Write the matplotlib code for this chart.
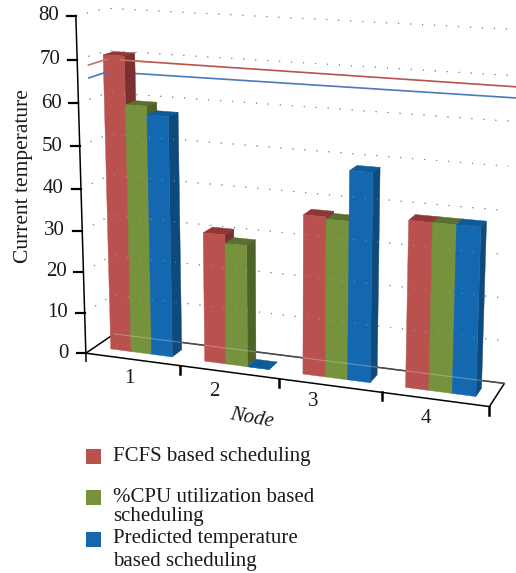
import matplotlib
matplotlib.use('Agg')
import matplotlib.pyplot as plt
import numpy as np
from matplotlib.patches import Polygon, Rectangle

plt.rcParams['font.family'] = ['Liberation Serif', 'DejaVu Serif']

nodes = ['1', '2', '3', '4']
fcfs = [70.7, 31, 37.5, 38.5]
cpu = [59.5, 29, 37, 38.5]
predicted = [57.5, 0, 48.5, 38.5]
red_line = [68, 67.6]
blue_line = [65, 65.2]
z_ticks = [0, 10, 20, 30, 40, 50, 60, 70, 80]

series = [
    ('FCFS based scheduling', fcfs, '#b9514e', '#8f3836', '#7a302e'),
    ('%CPU utilization based\nscheduling', cpu, '#76923c', '#5b6f2f', '#4f6228'),
    ('Predicted temperature\nbased scheduling', predicted, '#1468b0', '#0f5a98', '#0e4a7c'),
]

# frame corners (node axis, depth, value) -> pixel, fitted to one camera matrix
frame = [
    ((0, 0, 0), (87, 353)), ((0, 0, 80), (74, 16)),
    ((4, 0, 0), (490, 406)), ((4, 0, 80), (501, 39)),
    ((0, 1, 0), (113, 334)), ((0, 1, 80), (108, 8)),
    ((4, 1, 0), (504, 384)), ((4, 1, 80), (516, 29)),
]
rows = []
for (x, y, z), (u, v) in frame:
    p = [x, y, z, 1]
    rows.append(p + [0, 0, 0, 0] + [-u * c for c in p])
    rows.append([0, 0, 0, 0] + p + [-v * c for c in p])
camera = np.linalg.svd(np.array(rows, dtype=float))[2][-1].reshape(3, 4)


def proj(x, y, z):
    h = camera @ np.array([x, y, z, 1.0])
    return h[0] / h[2], h[1] / h[2]


def path(ax, pts, **kw):
    xy = [proj(*p) for p in pts]
    ax.plot([p[0] for p in xy], [p[1] for p in xy], **kw)


fig = plt.figure(figsize=(5.16, 5.73), dpi=100)
ax = fig.add_axes([0, 0, 1, 1])
ax.set_xlim(0, 516)
ax.set_ylim(573, 0)
ax.axis('off')

# floor
path(ax, [(0, 0, 0), (0, 1, 0), (4, 1, 0), (4, 0, 0)], color='black', lw=1.1, zorder=1)

# dotted wall grid
dots = (0, (1, 9.8))
for z in z_ticks[1:]:
    path(ax, [(0, 0.36, z), (0, 1, z), (3.97, 1, z)], color='#444444', lw=0.8,
         linestyle=dots, zorder=1)

# lines on the walls, behind the bars
for vals, col in [(red_line, '#b9514e'), (blue_line, '#4a7ab8')]:
    path(ax, [(0, 1, vals[0]), (4.2, 1, vals[1])], color=col, lw=1.2, zorder=1)

# bars
bar_w, margin, y0, y1 = 0.22, 0.17, 0.32, 0.68
zo = 2
for i in range(len(nodes)):
    for j, (name, vals, front, top, side) in enumerate(series):
        xa = i + margin + j * bar_w
        xb = xa + bar_w
        z = vals[i]
        faces = [
            ([(xa, y0, z), (xb, y0, z), (xb, y1, z), (xa, y1, z)], top),
            ([(xb, y0, 0), (xb, y1, 0), (xb, y1, z), (xb, y0, z)], side),
            ([(xa, y0, 0), (xb, y0, 0), (xb, y0, z), (xa, y0, z)], front),
        ]
        for pts, col in faces:
            ax.add_patch(Polygon([proj(*p) for p in pts], closed=True, facecolor=col,
                                 edgecolor=col, lw=0.3, zorder=zo))
        zo += 1

# grid and floor show faintly through the bars
for z in z_ticks[1:]:
    path(ax, [(0, 0.36, z), (0, 1, z), (3.97, 1, z)], color='#d0d0d0', lw=0.8,
         linestyle=dots, alpha=0.45, zorder=zo)
path(ax, [(0, 1, 0), (4, 1, 0)], color='#d0d0d0', lw=0.8, alpha=0.4, zorder=zo)

# the parts of the lines that lie over the first bar
path(ax, [(0, 0.36, red_line[0]), (0, 1, red_line[0])], color='#c9706c', lw=1.2, zorder=zo)
path(ax, [(0, 0.36, blue_line[0]), (0, 1, blue_line[0])], color='#4a7ab8', lw=1.2, zorder=zo)
path(ax, [(0.14, 1, red_line[0]), (0.4, 1, red_line[0] - 0.03)], color='#c9706c', lw=1.2, zorder=zo)

# value axis
path(ax, [(0, 0, -2), (0, 0, 80)], color='black', lw=1.1, zorder=zo)
for z in z_ticks:
    px, py = proj(0, 0, z)
    ax.plot([px - 9, px], [py, py], color='black', lw=1.6, zorder=zo)
    ax.text(px - 17, py, str(z), ha='right', va='center', fontsize=15, color='#1a1a1a')

# node axis
path(ax, [(0, 0, 0), (4, 0, 0)], color='black', lw=1.1, zorder=zo)
for k in range(1, 5):
    px, py = proj(k, 0, 0)
    ax.plot([px, px], [py, py + 8], color='black', lw=1.8, zorder=zo)
label_dx = [-3, -14, -16, -9]
label_dy = [19, 19, 16, 19]
for k, name in enumerate(nodes):
    px, py = proj(k + 0.5, 0, 0)
    ax.text(px + label_dx[k], py + label_dy[k], name, ha='center', va='center',
            fontsize=15, color='#1a1a1a')

ax.text(24, 176, 'Current temperature', rotation=90, ha='center', va='center',
        fontsize=15.5, color='#1a1a1a')
ax.text(252, 418, 'Node', rotation=-10, ha='center', va='center', fontsize=15,
        style='italic', color='#1a1a1a')

# legend
legend_y = [456.5, 497.5, 539.5]
text_y = [456, 507, 550]
spacing = [1, 1.04, 1.25]
for (name, vals, front, top, side), ly, ty, sp in zip(series, legend_y, text_y, spacing):
    ax.add_patch(Rectangle((86, ly - 7.5), 15, 15, facecolor=front, edgecolor='none'))
    ax.text(113, ty, name, ha='left', va='center', fontsize=15, color='#1a1a1a',
            linespacing=sp)

fig.savefig('out.png', dpi=100)
